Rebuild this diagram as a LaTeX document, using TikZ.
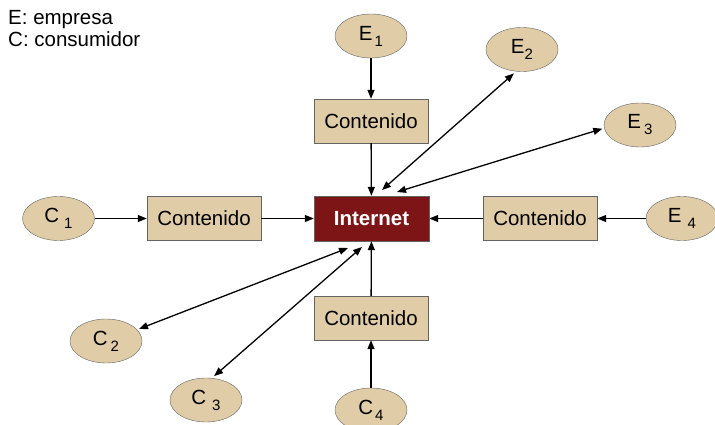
\documentclass[tikz,border=0pt]{standalone}
\usepackage{fontspec}
\setmainfont{Liberation Sans}
\usetikzlibrary{shapes.geometric,arrows.meta}
\definecolor{boxtan}{RGB}{224,205,168}
\definecolor{edgegray}{RGB}{100,100,100}
\definecolor{netred}{RGB}{125,20,22}
\newcommand\lsub[2]{\kern#1\raisebox{-6pt}{\fontsize{15}{15}\selectfont #2}}
\begin{document}
\begin{tikzpicture}[x=1pt,y=-1pt,
  lab/.style={font=\fontsize{20.5}{24}\selectfont},
  ell/.style={ellipse, draw=edgegray, fill=boxtan, minimum width=72pt, minimum height=44pt, inner sep=0pt, lab},
  cbox/.style={rectangle, draw=edgegray, fill=boxtan, minimum width=114pt, minimum height=44pt, inner sep=0pt, lab},
  netbox/.style={rectangle, draw=edgegray, fill=netred, text=white, minimum width=115pt, minimum height=45pt, inner sep=0pt, font=\fontsize{20.5}{24}\selectfont\bfseries},
  arr/.style={-{Triangle[length=9pt,width=7pt]}, line width=1.3pt},
  darr/.style={{Triangle[length=9pt,width=7pt]}-{Triangle[length=9pt,width=7pt]}, line width=1.3pt},
  legend/.style={anchor=base west, inner sep=0pt, lab}]
\useasboundingbox (0,0) rectangle (715,425);

\node[legend] (leg1) at (8,25) {E: empresa};
\node[legend] (leg2) at (8,47) {C: consumidor};

\node[netbox] (inet) at (371.5,218.5) {Internet};

\node[cbox] (ctop) at (371,121) {Contenido};
\node[cbox] (cleft) at (204,218.5) {Contenido};
\node[cbox] (cright) at (540,218.5) {Contenido};
\node[cbox] (cbot) at (371,318) {Contenido};

\node[ell] (E1) at (371,36) {E\lsub{2pt}{1}};
\node[ell] (E2) at (522,49.5) {E\lsub{0pt}{2}};
\node[ell] (E3) at (640,125) {E\lsub{3pt}{3}};
\node[ell] (E4) at (682,218.5) {E\lsub{6pt}{4}};
\node[ell] (C1) at (58.5,218.5) {C\lsub{5pt}{1}};
\node[ell] (C2) at (106,341) {C\lsub{3pt}{2}};
\node[ell] (C3) at (206,400) {C\lsub{6pt}{3}};
\node[ell] (C4) at (371,410) {C\lsub{2pt}{4}};

\coordinate (ie2) at (382,190);
\coordinate (ie3) at (397,192);
\coordinate (ic2) at (348,248);
\coordinate (ic3) at (362,247);

\draw[arr] (E1) -- (ctop);
\draw[arr] (ctop) -- (inet);
\draw[arr] (C1) -- (cleft);
\draw[arr] (cleft) -- (inet);
\draw[arr] (E4) -- (cright);
\draw[arr] (cright) -- (inet);
\draw[arr] (C4) -- (cbot);
\draw[arr] (cbot) -- (inet);

\draw[darr, shorten >=3pt] (ie2) -- (E2.-105);
\draw[darr, shorten >=2pt] (ie3) -- (E3.185);
\draw[darr, shorten >=2pt] (ic2) -- (C2.20);
\draw[darr, shorten >=3pt] (ic3) -- (C3.75);
\end{tikzpicture}
\end{document}
